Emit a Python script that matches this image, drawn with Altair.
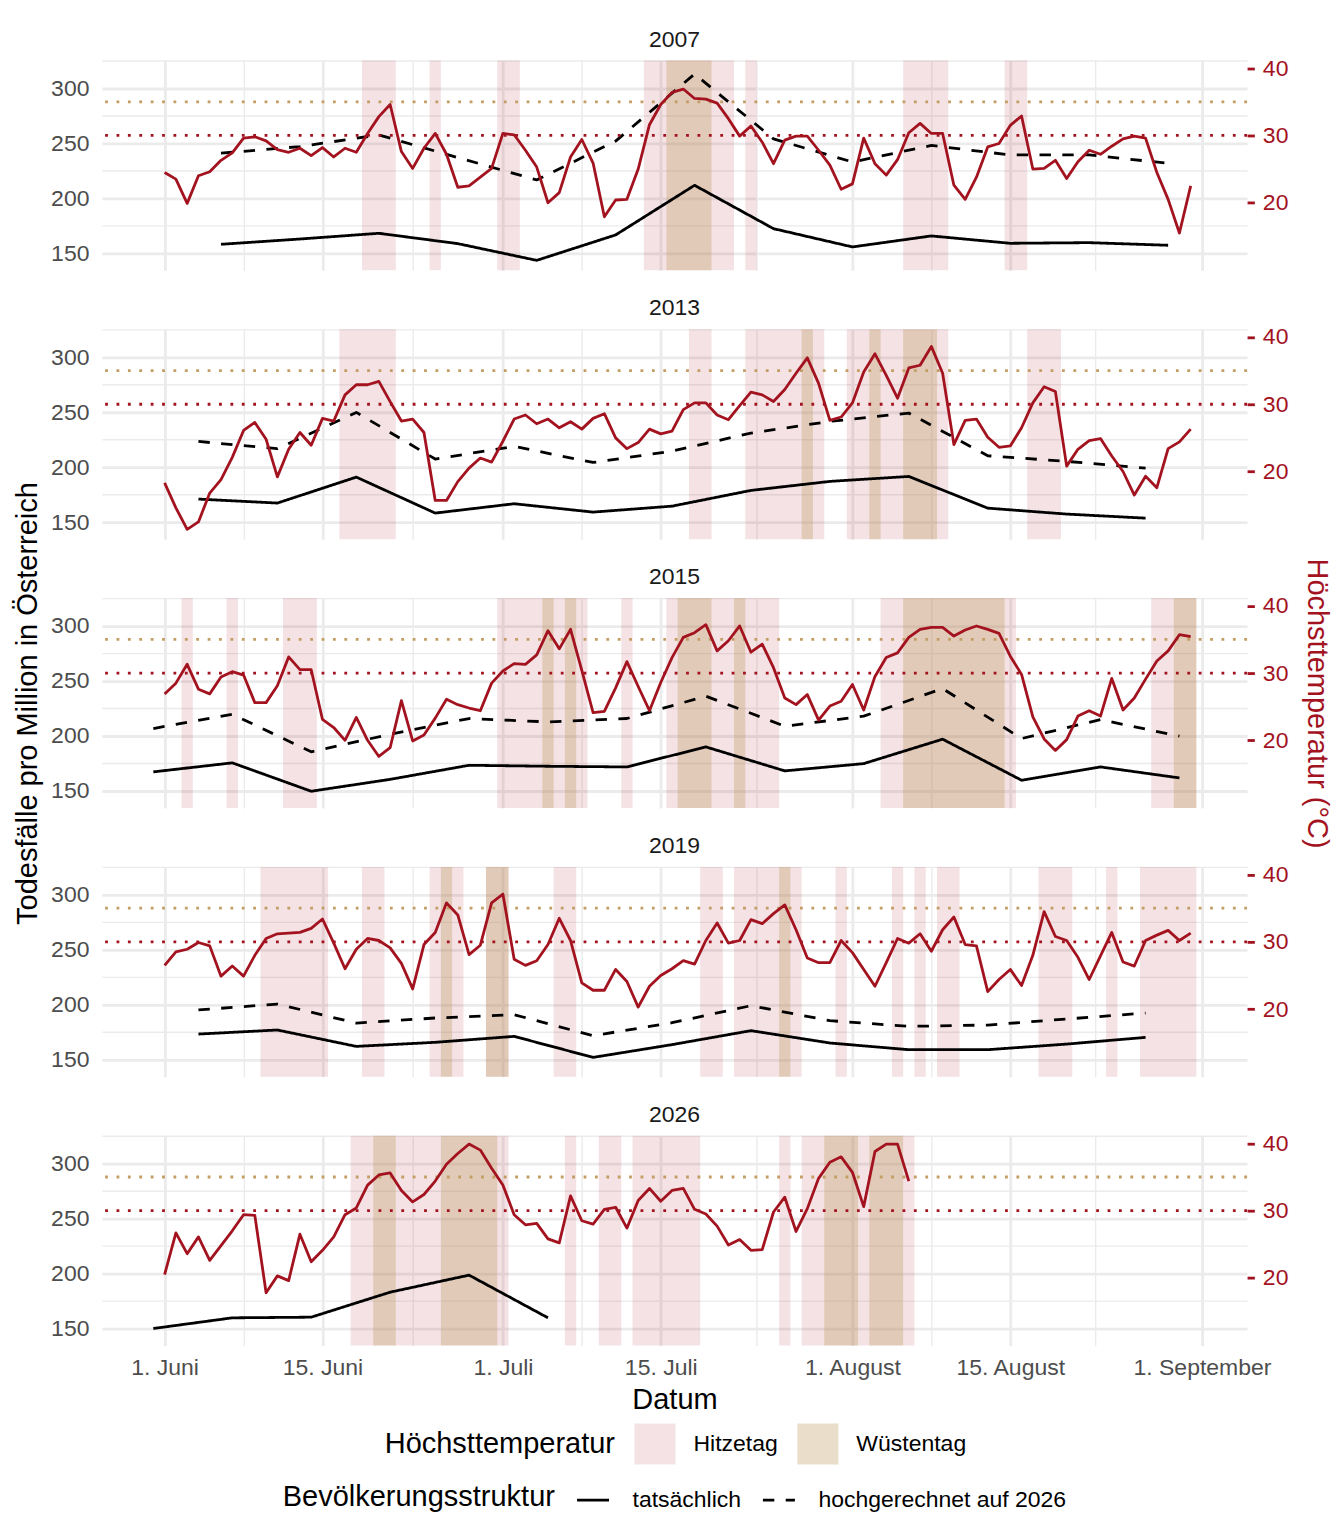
import altair as alt
import pandas as pd

# ---------------- data ----------------
# Tag = days after 1 June (0 = 1. Juni); daily maximum temperature in °C
TEMP_2007 = [24.5, 23.5, 19.9, 24.0, 24.6, 26.3, 27.4, 29.6, 29.8, 29.2, 27.9, 27.5, 28.1, 27.0, 28.2, 26.8,
             28.1, 27.5, 30.3, 32.8, 34.6, 27.6, 25.1, 28.1, 30.3, 27.2, 22.3, 22.5, 23.8, 25.1, 30.3, 30.1,
             27.8, 25.3, 20.0, 21.5, 26.8, 29.4, 25.9, 17.9, 20.4, 20.5, 25.0, 31.6, 34.6, 36.4, 36.9, 35.5,
             35.4, 34.8, 32.5, 29.9, 31.4, 29.0, 25.8, 29.3, 29.9, 29.9, 27.8, 25.6, 22.0, 22.8, 29.6, 25.8,
             24.1, 26.4, 30.4, 31.8, 30.3, 30.3, 22.6, 20.5, 23.8, 28.3, 28.8, 31.5, 32.9, 25.0, 25.1, 26.3,
             23.6, 26.1, 27.8, 27.2, 28.4, 29.5, 29.9, 29.6, 24.5, 20.5, 15.5, 22.5]
TEMP_2013 = [18.3, 14.6, 11.4, 12.5, 16.8, 18.8, 22.1, 26.1, 27.3, 24.8, 19.2, 23.3, 25.8, 23.9, 27.9, 27.5,
             31.4, 32.9, 32.9, 33.4, 30.4, 27.5, 27.8, 25.8, 15.7, 15.7, 18.5, 20.5, 22.0, 21.4, 24.5, 27.8,
             28.4, 27.1, 27.8, 26.5, 27.4, 26.3, 27.9, 28.6, 25.0, 23.4, 24.3, 26.3, 25.6, 26.0, 29.2, 30.2,
             30.2, 28.4, 27.7, 29.8, 31.8, 31.4, 30.4, 32.2, 34.6, 36.9, 33.1, 27.6, 28.1, 30.2, 34.8, 37.5,
             34.3, 30.9, 35.4, 35.8, 38.6, 34.6, 24.0, 27.6, 27.8, 25.1, 23.6, 23.8, 26.5, 30.2, 32.6, 31.9,
             20.8, 23.3, 24.6, 24.9, 22.3, 20.0, 16.5, 19.3, 17.6, 23.4, 24.4, 26.3]
TEMP_2015 = [26.9, 28.5, 31.3, 27.6, 26.9, 29.4, 30.2, 29.7, 25.6, 25.6, 28.1, 32.4, 30.5, 30.5, 23.1, 21.9,
             20.0, 23.4, 20.0, 17.6, 18.9, 25.9, 19.9, 20.8, 23.3, 26.1, 25.3, 24.8, 24.4, 28.5, 30.3, 31.4,
             31.3, 32.7, 36.3, 33.6, 36.5, 30.4, 24.1, 24.3, 27.8, 31.7, 28.0, 24.4, 28.6, 32.3, 35.3, 36.0,
             37.2, 33.3, 34.8, 37.0, 33.1, 34.3, 30.8, 26.3, 25.3, 26.8, 23.0, 25.1, 25.8, 28.3, 24.5, 29.5,
             32.3, 33.0, 35.3, 36.5, 36.8, 36.8, 35.5, 36.4, 37.0, 36.5, 35.9, 32.5, 29.8, 23.5, 20.2, 18.5,
             20.1, 23.6, 24.4, 23.6, 29.2, 24.5, 26.3, 29.1, 31.8, 33.3, 35.7, 35.4]
TEMP_2019 = [26.5, 28.5, 28.9, 29.9, 29.4, 24.9, 26.4, 24.9, 28.0, 30.5, 31.2, 31.3, 31.4, 32.0, 33.4, 29.8,
             26.0, 28.9, 30.5, 30.2, 29.1, 26.8, 23.0, 29.6, 31.4, 35.8, 34.0, 28.1, 29.5, 35.8, 37.1, 27.4,
             26.5, 27.2, 29.6, 33.5, 30.2, 23.9, 22.8, 22.8, 25.9, 24.1, 20.3, 23.4, 25.0, 26.0, 27.2, 26.7,
             30.2, 32.8, 29.8, 30.2, 33.3, 32.7, 34.2, 35.5, 31.8, 27.6, 26.9, 26.9, 30.2, 28.4, 25.9, 23.4,
             26.9, 30.5, 29.8, 31.2, 28.6, 31.8, 33.7, 29.6, 29.4, 22.6, 24.4, 25.9, 23.5, 28.0, 34.5, 30.8,
             30.2, 27.7, 24.4, 27.9, 31.4, 27.0, 26.4, 30.2, 31.0, 31.7, 30.2, 31.3]
TEMP_2026 = [20.5, 26.7, 23.6, 26.1, 22.6, 24.8, 27.0, 29.4, 29.3, 17.8, 20.3, 19.6, 26.5, 22.4, 24.1, 26.1,
             29.4, 30.4, 33.8, 35.3, 35.6, 33.0, 31.3, 32.4, 34.4, 36.9, 38.5, 39.9, 39.0, 36.3, 33.8, 29.4,
             27.9, 28.1, 25.8, 25.2, 32.2, 28.5, 28.0, 30.2, 30.5, 27.4, 31.5, 33.3, 31.4, 33.0, 33.3, 30.2,
             29.5, 27.7, 24.9, 25.7, 24.1, 24.2, 29.8, 32.0, 26.9, 30.3, 34.8, 37.2, 38.0, 35.7, 30.6, 38.8,
             39.9, 39.9, 34.4]

# weekly deaths per million (Tag of the weekly point)
WOCHE_2007 = [5, 12, 19, 26, 33, 40, 47, 54, 61, 68, 75, 82, 89]
TATS_2007 = [158.2, 163.0, 168.2, 158.8, 143.6, 166.7, 211.8, 172.4, 155.8, 165.8, 159.1, 159.7, 157.3]
HOCH_2007 = [241.0, 247.0, 257.6, 237.0, 216.7, 252.0, 313.0, 254.0, 233.0, 248.0, 239.4, 239.4, 231.8]
WOCHE_2013 = [3, 10, 17, 24, 31, 38, 45, 52, 59, 66, 73, 80, 87]
TATS_2013 = [170.9, 167.3, 190.9, 158.2, 166.7, 159.1, 164.5, 178.8, 187.0, 191.5, 162.7, 157.3, 153.6]
HOCH_2013 = [223.3, 216.7, 249.7, 207.3, 218.8, 204.2, 214.5, 230.9, 241.5, 249.1, 210.3, 205.2, 199.1]
WOCHE_2015 = [-1, 6, 13, 20, 27, 34, 41, 48, 55, 62, 69, 76, 83, 90]
TATS_2015 = [167.3, 175.5, 149.7, 160.5, 173.3, 172.4, 171.8, 190.0, 168.2, 174.8, 197.0, 159.7, 171.8, 161.8]
HOCH_2015 = [206.7, 219.7, 185.5, 201.5, 215.8, 212.7, 215.8, 236.1, 208.8, 217.9, 243.0, 197.6, 214.8, 199.7]
WOCHE_2019 = [3, 10, 17, 24, 31, 38, 45, 52, 59, 66, 73, 80, 87]
TATS_2019 = [173.3, 177.0, 162.1, 165.8, 171.2, 152.1, 163.7, 176.4, 165.2, 159.1, 159.1, 164.2, 170.3]
HOCH_2019 = [195.2, 200.6, 183.3, 187.9, 190.9, 171.8, 183.6, 199.1, 185.5, 180.3, 181.5, 187.0, 192.4]
WOCHE_2026 = [-1, 6, 13, 20, 27, 34]
TATS_2026 = [150.0, 159.7, 160.3, 183.0, 198.5, 159.7]
HOCH_2026 = []

YEARS = [2007, 2013, 2015, 2019, 2026]
TEMPS = [TEMP_2007, TEMP_2013, TEMP_2015, TEMP_2019, TEMP_2026]
WOCHEN = [WOCHE_2007, WOCHE_2013, WOCHE_2015, WOCHE_2019, WOCHE_2026]
TATS = [TATS_2007, TATS_2013, TATS_2015, TATS_2019, TATS_2026]
HOCH = [HOCH_2007, HOCH_2013, HOCH_2015, HOCH_2019, HOCH_2026]

HITZE_GRENZE = 30
WUESTE_GRENZE = 35
KATEGORIEN = ["Hitzetag", "Wüstentag"]
STRUKTUREN = ["tatsächlich", "hochgerechnet auf 2026"]

X_MAJOR = [0, 14, 30, 44, 61, 75, 92]
X_MINOR = [7, 22, 37, 52.5, 68, 82.5]
X_LABELS = ["1. Juni", "15. Juni", "1. Juli", "15. Juli", "1. August", "15. August", "1. September"]
Y_VALUES = [150, 175, 200, 225, 250, 275, 300, 325]
T_VALUES = [20, 30, 40]

# ---------------- styling ----------------
FONT = "Liberation Sans"
RED = "#A3131F"
TAN = "#C39D63"
HITZE_FILL = "rgba(163,19,31,0.12)"
WUESTE_FILL = "rgba(189,152,93,0.32)"
GRID = "#EBEBEB"
W, H = 1146, 210
LW = 2.8

x_scale = alt.Scale(domain=[-5.56, 96.0], nice=False, zero=False)
y_scale = alt.Scale(domain=[134.5, 325.2], nice=False, zero=False)
t_scale = alt.Scale(domain=[9.94, 41.14], nice=False, zero=False)


def runs(temps, thr):
    out, start = [], None
    for i, t in enumerate(temps):
        if t >= thr and start is None:
            start = i
        if start is not None and (t < thr or i == len(temps) - 1):
            end = i - 1 if t < thr else i
            out.append((start - 0.5, end + 0.5))
            start = None
    return out


label_expr = ""
for v, lab in zip(X_MAJOR, X_LABELS):
    label_expr += f"datum.value == {v} ? '{lab}' : "
label_expr += "''"

x_grid_w = alt.condition(f"indexof({X_MAJOR}, datum.value) >= 0", alt.value(LW), alt.value(LW / 2))
y_grid_w = alt.condition("datum.value % 50 == 0", alt.value(LW), alt.value(LW / 2))

leg_temp = alt.Legend(title="Höchsttemperatur", orient="none", legendX=283, legendY=1364,
                      direction="horizontal", titleOrient="left", titleAnchor="middle",
                      titleBaseline="middle", titleFontSize=29, titleFontWeight="normal",
                      titleColor="black", titlePadding=19, titleLimit=600, labelFontSize=23,
                      labelColor="black", labelOffset=18, columnPadding=19, labelLimit=600,
                      symbolType="square", symbolSize=1681, symbolStrokeWidth=0, padding=0)
leg_struk = alt.Legend(title="Bevölkerungsstruktur", orient="none", legendX=181, legendY=1423,
                       direction="horizontal", titleOrient="left", titleAnchor="middle",
                       titleBaseline="middle", titleFontSize=29, titleFontWeight="normal",
                       titleColor="black", titlePadding=20, titleLimit=600, labelFontSize=23,
                       labelColor="black", labelOffset=22, columnPadding=15, labelLimit=600,
                       symbolType="stroke", symbolSize=1024, symbolStrokeWidth=LW,
                       symbolStrokeColor="black", padding=0)


def panel(year, temps, wochen, tats, hoch, middle, last):
    tdf = pd.DataFrame({"Tag": list(range(len(temps))), "Temp": temps})
    rows = []
    for kat, thr in zip(KATEGORIEN, [HITZE_GRENZE, WUESTE_GRENZE]):
        for a, b in runs(temps, thr):
            rows.append({"von": a, "bis": b, "kat": kat})
    rdf = pd.DataFrame(rows)
    ddf = pd.concat([
        pd.DataFrame({"Tag": wochen[:len(tats)], "Wert": tats, "Struktur": STRUKTUREN[0]}),
        pd.DataFrame({"Tag": wochen[:len(hoch)], "Wert": hoch, "Struktur": STRUKTUREN[1]}),
    ], ignore_index=True)

    x_axis = alt.Axis(values=X_MAJOR + X_MINOR, grid=True, gridColor=GRID, gridWidth=x_grid_w,
                      ticks=False, tickSize=0, domain=False, labels=last, labelExpr=label_expr,
                      labelOverlap=False, labelPadding=11, labelFontSize=23, labelColor="#4D4D4D",
                      title="Datum" if last else None, titlePadding=6, titleFontSize=29,
                      titleFontWeight="normal", titleColor="black")
    y_axis = alt.Axis(orient="left", values=Y_VALUES, grid=True, gridColor=GRID, gridWidth=y_grid_w,
                      ticks=False, tickSize=0, domain=False,
                      labelExpr="datum.value % 50 == 0 ? datum.label : ''", labelOverlap=False,
                      labelPadding=13, labelFontSize=23, labelColor="#4D4D4D",
                      title="Todesfälle pro Million in Österreich" if middle else None,
                      titleFontSize=29, titleFontWeight="normal", titleColor="black", titlePadding=8)
    t_axis = alt.Axis(orient="right", values=T_VALUES, grid=False, ticks=True, tickSize=7.3,
                      tickWidth=LW, tickColor=RED, domain=False, labelPadding=8, labelColor=RED,
                      labelFontSize=23, labelOverlap=False,
                      title="Höchsttemperatur (°C)" if middle else None, titleColor=RED,
                      titleFontSize=29, titleFontWeight="normal", titlePadding=14)

    rect = alt.Chart(rdf).mark_rect(strokeWidth=0).encode(
        x=alt.X("von:Q", scale=x_scale, axis=x_axis),
        x2="bis:Q",
        y=alt.value(0), y2=alt.value(H),
        color=alt.Color("kat:N", scale=alt.Scale(domain=KATEGORIEN, range=[HITZE_FILL, WUESTE_FILL]),
                        legend=leg_temp),
    )
    deaths = alt.Chart(ddf).mark_line(color="black", strokeWidth=LW, strokeJoin="round").encode(
        x=alt.X("Tag:Q", scale=x_scale, axis=x_axis),
        y=alt.Y("Wert:Q", scale=y_scale, axis=y_axis),
        strokeDash=alt.StrokeDash("Struktur:N",
                                  scale=alt.Scale(domain=STRUKTUREN, range=[[1, 0], [11.4, 11.4]]),
                                  legend=leg_struk),
    )
    r30 = alt.Chart(pd.DataFrame({"grenze": [HITZE_GRENZE]})).mark_rule(
        color=RED, strokeWidth=LW, strokeDash=[2.8, 8.6], strokeCap="butt").encode(
        y=alt.Y("grenze:Q", scale=t_scale, axis=t_axis))
    r35 = alt.Chart(pd.DataFrame({"grenze": [WUESTE_GRENZE]})).mark_rule(
        color=TAN, strokeWidth=LW, strokeDash=[2.8, 8.6], strokeCap="butt").encode(
        y=alt.Y("grenze:Q", scale=t_scale, axis=t_axis))
    temp = alt.Chart(tdf).mark_line(color=RED, strokeWidth=LW, strokeJoin="round").encode(
        x=alt.X("Tag:Q", scale=x_scale, axis=x_axis),
        y=alt.Y("Temp:Q", scale=t_scale, axis=t_axis),
    )
    title = alt.Chart(pd.DataFrame({"Jahr": [str(year)]})).mark_text(
        font=FONT, fontSize=23, color="#1A1A1A", baseline="alphabetic", align="center").encode(
        text="Jahr:N", x=alt.value(W / 2), y=alt.value(-14))

    return alt.layer(rect, deaths, alt.layer(r30, r35, temp), title).resolve_scale(
        y="independent").properties(width=W, height=H)


panels = [panel(y, t, w, a, h, middle=(y == 2015), last=(y == 2026))
          for y, t, w, a, h in zip(YEARS, TEMPS, WOCHEN, TATS, HOCH)]

chart = alt.vconcat(*panels, spacing=59, bounds="flush").properties(
    padding={"left": 5, "top": 20, "right": 5, "bottom": 5}
).configure(font=FONT).configure_view(stroke=None)

chart.save("out.html", embed_options={"renderer": "svg", "actions": False})
